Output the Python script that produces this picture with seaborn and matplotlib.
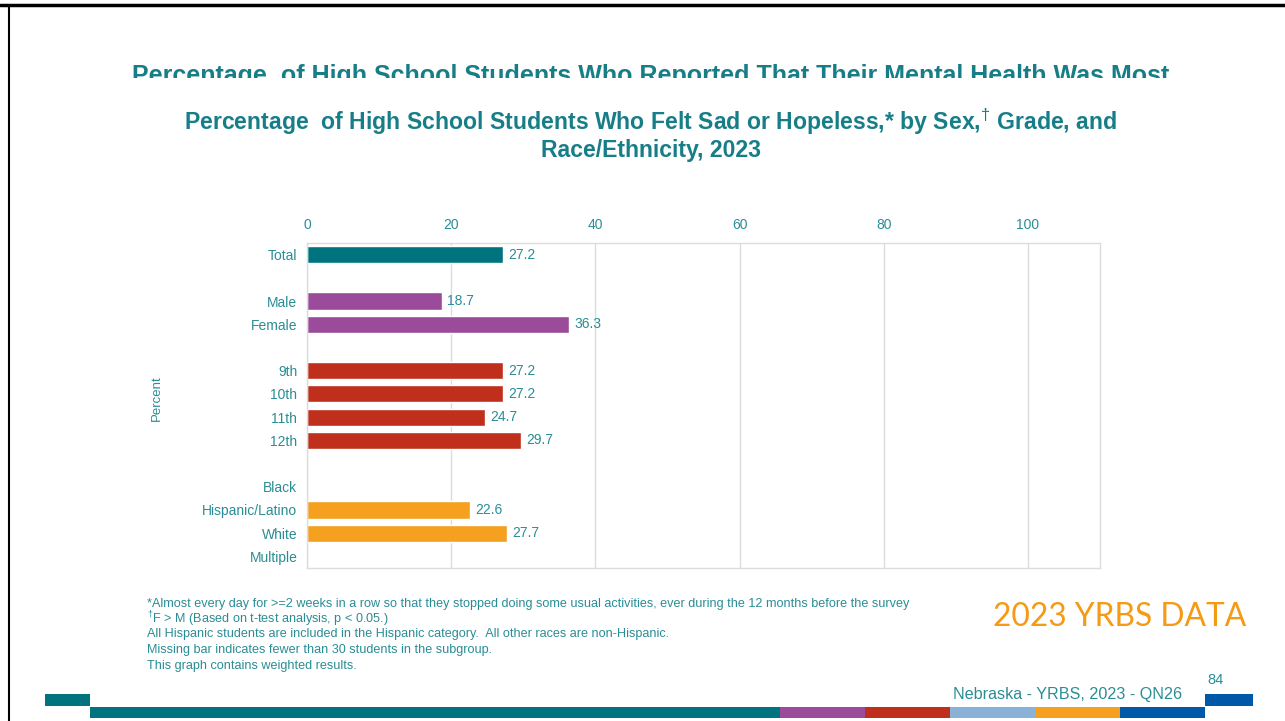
import numpy as np
import pandas as pd
import matplotlib
matplotlib.use("Agg")
import matplotlib.pyplot as plt
from matplotlib.patches import Rectangle
from matplotlib.lines import Line2D
import seaborn as sns

# ---- data ----
categories = ["Total", "Male", "Female", "9th", "10th", "11th", "12th",
              "Black", "Hispanic/Latino", "White", "Multiple"]
values = [27.2, 18.7, 36.3, 27.2, 27.2, 24.7, 29.7, None, 22.6, 27.7, None]
groups = ["Total", "Sex", "Sex", "Grade", "Grade", "Grade", "Grade",
          "Race", "Race", "Race", "Race"]
x_ticks = [0, 20, 40, 60, 80, 100]
group_colors = {"Total": "#00747E", "Sex": "#9A4C9B", "Grade": "#BF2F1B", "Race": "#F5A01E"}

# category order with blank spacer rows between groups
order = ["Total", " ", "Male", "Female", "  ", "9th", "10th", "11th", "12th",
         "   ", "Black", "Hispanic/Latino", "White", "Multiple"]

df = pd.DataFrame({"cat": categories, "val": values, "grp": groups}).dropna(subset=["val"])

TEAL_T = "#177E88"
TEAL = "#2A8D95"
W, H = 1285, 721

sns.set_theme(style="white")
plt.rcParams["font.family"] = ["Liberation Sans", "DejaVu Sans"]
plt.rcParams["mathtext.fontset"] = "custom"
plt.rcParams["mathtext.rm"] = "Liberation Sans"
plt.rcParams["mathtext.bf"] = "Liberation Sans:bold"

fig = plt.figure(figsize=(W / 100, H / 100), dpi=100)
fig.patch.set_facecolor("white")

def fx(px):
    return px / W

def fy(py):
    return 1 - py / H

ax = fig.add_axes([fx(307), fy(568), fx(1100) - fx(307), (568 - 243) / H])

sns.barplot(data=df, y="cat", x="val", hue="grp", order=order,
            palette=group_colors, dodge=False, width=0.74, orient="h",
            legend=False, ax=ax, errorbar=None, saturation=1)

for cont in ax.containers:
    ax.bar_label(cont, fmt="%.1f", padding=4, color=TEAL, fontsize=10)

ax.set_xlim(0, 110)
ax.set_ylim(len(order) - 0.5, -0.5)
ax.set_xticks(x_ticks)
ax.xaxis.tick_top()
ax.tick_params(axis="x", colors=TEAL, labelsize=10, length=0, pad=8)
ax.tick_params(axis="y", colors=TEAL, labelsize=10, length=0, pad=7)
for lbl in ax.get_xticklabels() + ax.get_yticklabels():
    lbl.set_color(TEAL)
ax.set_xlabel("")
ax.set_ylabel("")
ax.grid(axis="x", color="#DCDCDC", linewidth=1)
ax.set_axisbelow(True)
for s in ax.spines.values():
    s.set_visible(True)
    s.set_color("#DCDCDC")
    s.set_linewidth(1)

fig.text(fx(157), fy(398), "Percent", rotation=90, color=TEAL, fontsize=9.5,
         ha="center", va="center")

# titles
fig.text(fx(651), fy(122),
         r"Percentage  of High School Students Who Felt Sad or Hopeless,* by Sex,$^{\dagger}$ Grade, and",
         ha="center", va="center", color=TEAL_T, fontsize=16.6, fontweight="bold")
fig.text(fx(651), fy(151), "Race/Ethnicity, 2023",
         ha="center", va="center", color=TEAL_T, fontsize=16.6, fontweight="bold")

# clipped previous-slide title
fig.text(fx(651), fy(83),
         "Percentage  of High School Students Who Reported That Their Mental Health Was Most",
         ha="center", va="baseline", color=TEAL_T, fontsize=18, fontweight="bold", zorder=1)
fig.patches.append(Rectangle((fx(20), fy(100)), fx(1280) - fx(20), fy(77.5) - fy(100),
                             transform=fig.transFigure,
                             facecolor="white", edgecolor="none", zorder=5))

# footnotes
notes = [
    "*Almost every day for >=2 weeks in a row so that they stopped doing some usual activities, ever during the 12 months before the survey",
    r"$^{\dagger}$F > M (Based on t-test analysis, p < 0.05.)",
    "All Hispanic students are included in the Hispanic category.  All other races are non-Hispanic.",
    "Missing bar indicates fewer than 30 students in the subgroup.",
    "This graph contains weighted results.",
]
ys = [604, 619, 634, 650, 666]
for t, yy in zip(notes, ys):
    fig.text(fx(147), fy(yy), t, ha="left", va="center", color=TEAL, fontsize=9.1)

fig.text(fx(993), fy(617), "2023 YRBS DATA", ha="left", va="center",
         color="#F59A12", fontsize=22.9, family=["Lato", "DejaVu Sans"])

# bottom strip
strip = [(90, 780, "#00747E"), (780, 865, "#9A4C9B"), (865, 950, "#BF2F1B"),
         (950, 1035, "#8AB2D6"), (1035, 1120, "#F5A01E"), (1120, 1205, "#0059A8")]
for x0, x1, c in strip:
    fig.patches.append(Rectangle((fx(x0), fy(718)), fx(x1) - fx(x0), (718 - 707) / H,
                                 transform=fig.transFigure, facecolor=c, edgecolor="none"))
fig.patches.append(Rectangle((fx(45), fy(706)), fx(90) - fx(45), (706 - 694) / H,
                             transform=fig.transFigure, facecolor="#00747E", edgecolor="none"))
fig.patches.append(Rectangle((fx(1205), fy(706)), fx(1253) - fx(1205), (706 - 694) / H,
                             transform=fig.transFigure, facecolor="#0059A8", edgecolor="none"))
fig.text(fx(953), fy(694), "Nebraska - YRBS, 2023 - QN26", ha="left", va="center",
         color=TEAL, fontsize=11.6)
fig.text(fx(1207), fy(680), "84", ha="left", va="center", color=TEAL, fontsize=10.5)

# slide frame lines
fig.add_artist(Line2D([0, 1], [fy(4.5), fy(4.5)], transform=fig.transFigure,
                      color="black", linewidth=2.5, zorder=10))
fig.add_artist(Line2D([fx(8.5), fx(8.5)], [fy(4.5), 0], transform=fig.transFigure,
                      color="black", linewidth=1.5, zorder=10))

fig.savefig("out.png", dpi=100, facecolor="white")
